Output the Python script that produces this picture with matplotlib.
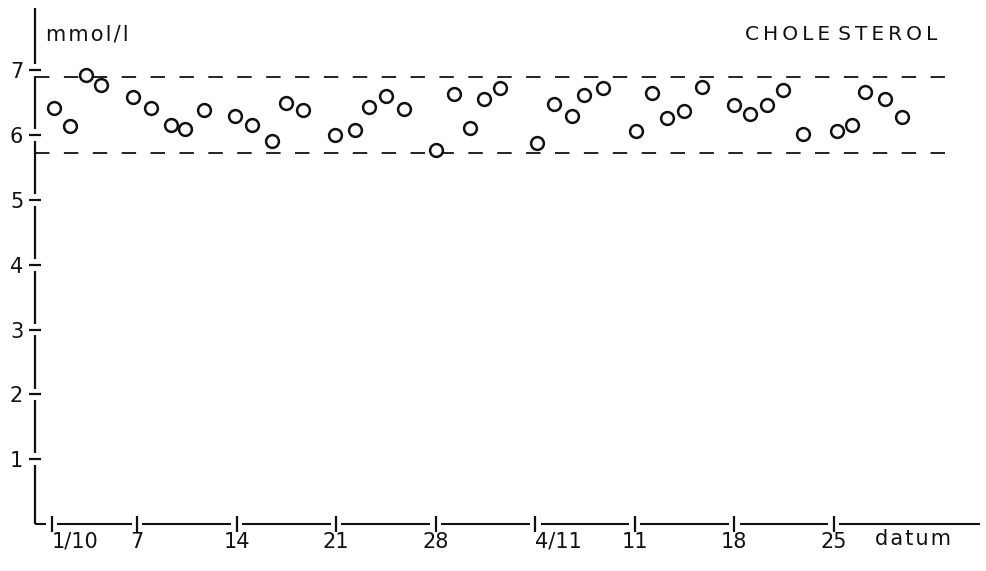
import matplotlib
matplotlib.use("Agg")
import matplotlib.pyplot as plt
from matplotlib.transforms import blended_transform_factory

# Serum cholesterol, daily measurements (days counted from 1 October)
day = [0.2, 1.3, 2.4, 3.5,
       5.7, 7.0, 8.4, 9.4, 10.7,
       12.9, 14.1, 15.5, 16.5, 17.7,
       19.9, 21.3, 22.3, 23.5, 24.8,
       27.0, 28.3, 29.4, 30.4, 31.5,
       34.1, 35.3, 36.6, 37.4, 38.8,
       41.1, 42.2, 43.3, 44.5, 45.7,
       48.0, 49.1, 50.3, 51.4, 52.8,
       55.2, 56.3, 57.2, 58.6, 59.8]
cholesterol = [6.42, 6.14, 6.93, 6.77,
               6.59, 6.42, 6.15, 6.09, 6.38,
               6.29, 6.15, 5.91, 6.50, 6.38,
               6.00, 6.08, 6.43, 6.61, 6.40,
               5.77, 6.64, 6.11, 6.55, 6.72,
               5.87, 6.48, 6.29, 6.62, 6.72,
               6.06, 6.65, 6.27, 6.37, 6.74,
               6.46, 6.33, 6.47, 6.69, 6.01,
               6.06, 6.15, 6.67, 6.56, 6.28]

# Reference range limits (mmol/l)
upper_limit = 6.9
lower_limit = 5.73

x_ticks = [0, 6, 13, 20, 27, 34, 41, 48, 55]
x_labels = ["1/10", "7", "14", "21", "28", "4/11", "11", "18", "25"]
y_ticks = [1, 2, 3, 4, 5, 6, 7]
y_labels = ["1", "2", "3", "4", "5", "6", "7"]

plt.rcParams["font.family"] = ["DejaVu Sans"]
INK = "#111111"
FS = 15

W, H = 986, 571
fig = plt.figure(figsize=(W / 100, H / 100), dpi=100)
ax = fig.add_axes([35 / W, 47 / H, 945 / W, 516 / H])
ax.set_xlim(-1.17, 65.28)
ax.set_ylim(0, 7.96)
for s in ax.spines.values():
    s.set_visible(False)

# reference band
ax.axhline(upper_limit, xmin=0, xmax=0.977, color=INK, lw=1.3,
           linestyle=(0, (8, 8)))
ax.axhline(lower_limit, xmin=0, xmax=0.977, color=INK, lw=1.3,
           linestyle=(0, (8, 8)))

# measurements
ax.plot(day, cholesterol, linestyle="none", marker="o", ms=9.2,
        mfc="white", mec=INK, mew=1.8, zorder=3)

# axis lines drawn in pieces, broken around each tick
xlo, xhi = ax.get_xlim()
ylo, yhi = ax.get_ylim()
gx = 0.38
pts = [xlo] + x_ticks + [xhi]
for a, b in zip(pts[:-1], pts[1:]):
    a0 = a if a == xlo else a + gx
    b0 = b if b == xhi else b - gx
    ax.plot([a0, b0], [0, 0], color=INK, lw=1.5, clip_on=False,
            solid_capstyle="butt")

ty = blended_transform_factory(ax.transAxes, ax.transData)
gy = 0.09
pts = [ylo] + y_ticks + [yhi]
for a, b in zip(pts[:-1], pts[1:]):
    a0 = a if a == ylo else a + gy
    b0 = b if b == yhi else b - gy
    ax.plot([0, 0], [a0, b0], color=INK, lw=1.6, clip_on=False,
            transform=ty, solid_capstyle="butt")

ax.set_xticks(x_ticks)
ax.set_xticklabels(x_labels)
ax.set_yticks(y_ticks)
ax.set_yticklabels(y_labels)
ax.tick_params(axis="x", direction="inout", length=11, width=1.6,
               color=INK, pad=0, labelsize=FS, labelcolor=INK)
ax.tick_params(axis="y", direction="inout", length=9, width=1.6,
               color=INK, pad=4, labelsize=FS, labelcolor=INK)
for lab in ax.get_xticklabels():
    if "/" in lab.get_text():
        lab.set_horizontalalignment("left")

fig.text(46 / W, 1 - 25 / H, "m\u200am\u200ao\u200al\u200a/\u200al",
         fontsize=FS, color=INK, va="top", ha="left")
fig.text(745 / W, 1 - 25 / H,
         "\u2009".join("CHOLE") + "\u2009\u2009" + "\u2009".join("STEROL"),
         fontsize=FS - 0.5, color=INK, va="top", ha="left")
fig.text(875 / W, 1 - 529 / H, "d\u200aa\u200at\u200au\u200am",
         fontsize=FS, color=INK, va="top", ha="left")

fig.savefig("out.png", dpi=100, facecolor="white")
